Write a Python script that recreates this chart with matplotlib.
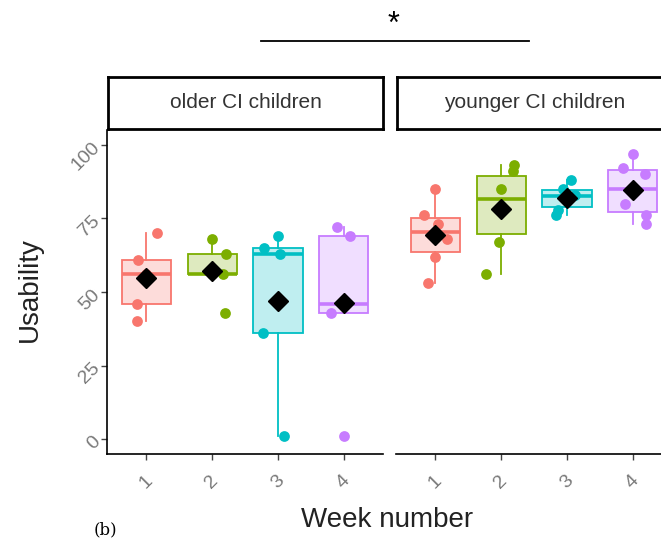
import numpy as np
import matplotlib.pyplot as plt
from matplotlib.colors import to_rgba
from matplotlib.lines import Line2D

plt.rcParams['font.family'] = ['Liberation Sans', 'DejaVu Sans']

# data
weeks = [1, 2, 3, 4]
groups = ['older CI children', 'younger CI children']
colors = ['#F8766D', '#7CAE00', '#00BFC4', '#C77CFF']

older = [
    [70, 61, 56, 46, 40],
    [68, 63, 56, 56, 43],
    [69, 65, 63, 36, 1],
    [72, 69, 46, 43, 1],
]
younger = [
    [85, 76, 73, 68, 62, 53],
    [93, 91, 85, 78, 67, 56],
    [88, 85, 83, 82, 78, 76],
    [97, 92, 90, 80, 76, 73],
]

# horizontal jitter of the dots (style only)
older_jit = [
    [0.16, -0.13, 0.0, -0.15, -0.15],
    [0.0, 0.21, 0.17, 0.0, 0.19],
    [0.0, -0.21, 0.03, -0.22, 0.10],
    [-0.10, 0.10, 0.0, -0.19, 0.0],
]
younger_jit = [
    [0.0, -0.17, 0.04, 0.18, 0.0, -0.12],
    [0.20, 0.18, 0.0, 0.0, -0.04, -0.23],
    [0.06, -0.06, 0.12, 0.0, -0.14, -0.17],
    [0.0, -0.14, 0.19, -0.12, 0.21, 0.20],
]

W, H = 661, 540
fig = plt.figure(figsize=(W / 100, H / 100), dpi=100)
fig.patch.set_facecolor('white')

panel_left = [107, 396]
panel_w = 276
ax_bottom = 1 - 454 / H
ax_h = (454 - 130) / H

tick_col = '#7a7a7a'

for k, (name, data, jit) in enumerate(zip(groups, [older, younger], [older_jit, younger_jit])):
    ax = fig.add_axes([panel_left[k] / W, ax_bottom, panel_w / W, ax_h])
    bp = ax.boxplot(data, positions=weeks, widths=0.75, whis=1.5,
                    showcaps=False, showfliers=False, patch_artist=True)
    for i, c in enumerate(colors):
        bp['boxes'][i].set_facecolor(to_rgba(c, 0.25))
        bp['boxes'][i].set_edgecolor(c)
        bp['boxes'][i].set_linewidth(1.3)
        bp['medians'][i].set_color(c)
        bp['medians'][i].set_linewidth(2.6)
        for wl in bp['whiskers'][2 * i:2 * i + 2]:
            wl.set_color(c)
            wl.set_linewidth(1.3)
        xs = np.array(weeks[i]) + np.array(jit[i])
        ax.scatter(xs, data[i], s=60, color=c, zorder=3, linewidths=0)
        ax.plot(weeks[i], np.mean(data[i]), marker='D', ms=10.5, color='black',
                zorder=4, linestyle='none')

    ax.set_xlim(0.4, 4.6)
    ax.set_ylim(-5, 105)
    ax.set_xticks(weeks)
    ax.set_xticklabels([str(w) for w in weeks], rotation=45, color=tick_col,
                       fontsize=14)
    ax.set_yticks([0, 25, 50, 75, 100])
    for s in ['top', 'right']:
        ax.spines[s].set_visible(False)
    ax.spines['bottom'].set_linewidth(1.2)
    ax.tick_params(axis='x', length=4, width=1, color='#444444', pad=9)
    if k == 0:
        ax.spines['left'].set_linewidth(1.2)
        ax.set_yticklabels(['0', '25', '50', '75', '100'], rotation=45,
                           rotation_mode='anchor', ha='right', va='center',
                           color=tick_col, fontsize=14)
        ax.tick_params(axis='y', length=4, width=1, color='#444444', pad=3)
    else:
        ax.spines['left'].set_visible(False)
        ax.tick_params(axis='y', left=False, labelleft=False)

    # facet strip
    sx = (panel_left[k] + 1) / W
    st = fig.add_axes([sx, 1 - 129 / H, (panel_w - 1) / W, 52 / H])
    st.set_xticks([])
    st.set_yticks([])
    for s in st.spines.values():
        s.set_linewidth(2)
        s.set_color('black')
    st.text(0.5, 0.5, name, ha='center', va='center', fontsize=15,
            color='#333333', transform=st.transAxes)

# significance bar
fig.add_artist(Line2D([261 / W, 529 / W], [1 - 41 / H, 1 - 41 / H],
                      color='black', linewidth=1.3))
fig.text(393 / W, 1 - 25 / H, '*', ha='center', va='center', fontsize=22)

fig.text(30 / W, 1 - 290 / H, 'Usability', rotation=90, ha='center',
         va='center', fontsize=20, color='#222222')
fig.text(387 / W, 1 - 520 / H, 'Week number', ha='center', va='center',
         fontsize=20, color='#222222')
fig.text(105 / W, 1 - 530 / H, '(b)', ha='center', va='center',
         fontsize=12, family='serif')

fig.savefig('out.png', dpi=100)
